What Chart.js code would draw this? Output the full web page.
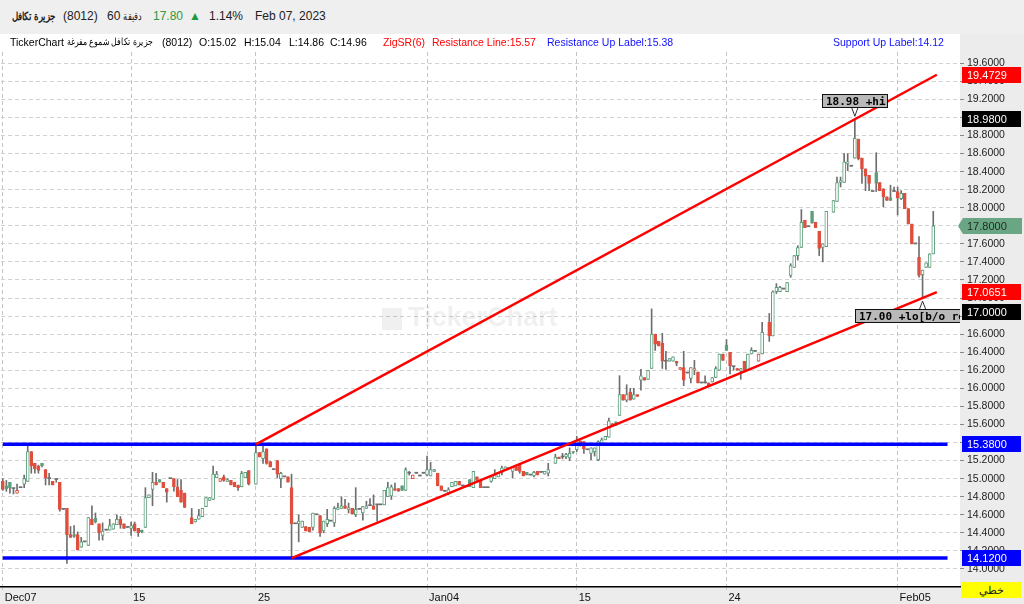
<!DOCTYPE html>
<html>
<head>
<meta charset="utf-8">
<script src="https://cdn.jsdelivr.net/npm/chart.js@4.4.1/dist/chart.umd.min.js"></script>
<style>
    body { margin: 0; width: 1024px; height: 604px; overflow: hidden; background: #ececec; position: relative;
        font-family: "Liberation Sans", Arial, sans-serif; }
    #hdr { position: absolute; left: 0; top: 0; width: 1024px; height: 34px; background: #efefef; }
    #plotBg { position: absolute; left: 0; top: 34px; width: 960px; height: 553px; background: #fff; }
    #chart { position: absolute; left: 0; top: 0; }
    .t { position: absolute; white-space: nowrap; line-height: 14px; }
    .h { top: 9px; font-size: 12px; color: #222; }
    .l { top: 35px; font-size: 10.5px; color: #000; }
    .ar { unicode-bidi: isolate; direction: rtl; transform-origin: left center; }
    .sq { display: inline-block; transform: scaleX(0.8); transform-origin: left center; }
    #mode { position: absolute; left: 961px; top: 582px; width: 60px; height: 16px; background: #ffff00;
        font-size: 11px; text-align: center; line-height: 16px; color: #222; }
</style>
</head>
<body>
<div id="hdr">
    <span class="t h ar" style="left:12px;font-weight:bold;font-size:11px;transform:scaleX(0.78)">جزيرة تكافل</span>
    <span class="t h" style="left:63px">(8012)</span>
    <span class="t h" style="left:107px">60</span>
    <span class="t h ar" style="left:123px;font-size:11px;transform:scaleX(0.75)">دقيقة</span>
    <span class="t h" style="left:153px;color:#2e9a3a">17.80</span>
    <span class="t h" style="left:189px;color:#1a9c44;font-size:12px">▲</span>
    <span class="t h" style="left:209px">1.14%</span>
    <span class="t h" style="left:255px">Feb 07, 2023</span>
</div>
<div id="plotBg"></div>
<canvas id="chart" width="1024" height="604"></canvas>
<span class="t l" style="left:10px">TickerChart</span>
<span class="t l ar" style="left:67px;font-size:10px;transform:scaleX(0.78)">جزيرة تكافل شموع مفرغة</span>
<span class="t l" style="left:162px">(8012)</span>
<span class="t l" style="left:199px">O:15.02</span>
<span class="t l" style="left:244px">H:15.04</span>
<span class="t l" style="left:289px">L:14.86</span>
<span class="t l" style="left:330px">C:14.96</span>
<span class="t l" style="left:383px;color:#ff0000">ZigSR(6)</span>
<span class="t l" style="left:432px;color:#ff0000">Resistance Line:15.57</span>
<span class="t l" style="left:547px;color:#1010ff">Resistance Up Label:15.38</span>
<span class="t l" style="left:833px;color:#1010ff">Support Up Label:14.12</span>
<div id="mode">خطي</div>
<script>
// 60 min candles, Dec 07 2022 .. Feb 07 2023 (null = empty slot)
const open = [
    14.97,14.92,14.96,14.89,14.84,14.90,14.94,14.97,15.30,15.17,
    15.14,15.17,15.10,15.00,14.97,14.99,14.96,14.66,14.67,14.38,
    14.38,14.38,14.24,14.30,14.26,14.55,14.56,14.50,14.37,14.43,
    14.43,14.44,14.49,14.55,14.50,14.46,14.45,14.50,14.45,14.43,
    14.46,14.79,14.88,14.96,14.99,14.96,14.89,15.00,15.00,14.91,
    14.87,14.84,null,14.57,14.52,14.55,14.58,14.69,14.76,14.77,
    15.01,14.97,15.02,14.97,14.98,14.96,14.93,14.91,15.01,15.09,
    null,14.94,15.29,15.22,15.33,15.19,15.10,15.20,15.00,15.02,
    15.02,14.90,14.50,14.50,14.46,14.47,14.46,14.46,14.60,14.59,
    14.42,14.50,14.53,14.51,14.66,14.67,14.70,14.66,14.67,14.60,
    14.66,14.62,14.67,14.70,14.70,14.71,14.71,14.71,14.80,14.81,
    14.89,14.89,14.92,14.87,15.06,15.00,15.06,15.03,15.06,15.04,
    15.03,15.08,15.06,14.92,14.86,14.84,14.91,14.92,14.97,14.92,
    14.91,14.99,14.90,15.02,14.98,14.90,14.90,14.97,15.00,15.02,
    15.07,15.10,15.11,15.08,15.13,15.16,15.08,15.07,15.04,15.03,
    15.08,15.07,15.05,15.06,null,15.17,15.24,15.24,15.24,15.23,
    15.30,15.32,15.42,15.41,15.32,15.28,15.30,15.21,15.39,15.43,
    15.46,15.61,15.63,15.70,15.93,15.87,15.96,15.88,15.93,16.09,
    16.12,16.10,16.22,16.60,16.52,16.50,16.30,16.30,16.30,16.30,
    16.21,16.23,16.17,16.11,16.20,16.18,16.06,16.06,16.06,16.07,
    16.12,16.20,16.38,16.48,16.40,16.24,16.22,16.19,16.30,16.20,
    16.38,16.41,16.30,16.38,null,16.73,16.58,17.07,17.07,17.10,
    17.07,17.25,17.34,17.47,17.56,17.86,17.79,17.96,17.84,17.74,
    17.56,17.57,null,17.95,18.07,18.28,18.28,18.49,18.46,18.55,
    18.76,18.55,18.43,18.36,18.18,18.39,18.28,18.21,18.12,18.11,
    18.18,18.18,18.10,18.16,17.99,17.82,17.60,17.45,17.26,17.34,
    17.34,17.49
];
const high = [
    15.00,14.98,14.96,14.89,14.94,14.90,15.04,15.37,15.30,15.17,
    15.15,15.17,15.10,15.06,14.97,15.00,14.96,14.66,14.67,14.47,
    14.48,14.41,14.35,14.30,14.57,14.70,14.62,14.50,14.51,14.43,
    14.55,14.50,14.60,14.58,14.50,14.46,14.52,14.52,14.45,14.43,
    14.90,14.82,15.07,15.06,14.99,14.96,14.89,15.00,15.00,14.99,
    14.99,14.84,null,14.67,14.55,14.66,14.67,14.79,14.79,15.14,
    15.08,15.00,15.04,15.00,14.98,14.96,14.93,15.08,15.07,15.09,
    null,15.38,15.29,15.36,15.33,15.19,15.10,15.20,15.07,15.02,
    15.02,15.05,14.50,14.60,14.53,14.47,14.46,14.62,14.60,14.59,
    14.53,14.66,14.53,14.69,14.73,14.80,14.77,14.73,14.67,14.90,
    14.66,14.69,14.75,14.78,14.82,14.71,14.71,14.87,14.96,14.93,
    14.95,14.89,14.92,15.12,15.08,15.04,15.06,15.03,15.06,15.25,
    15.18,15.10,15.06,14.92,14.86,14.90,14.96,14.97,14.97,14.92,
    14.91,14.99,15.08,15.02,14.98,14.90,14.90,15.02,15.10,15.07,
    15.14,15.13,15.11,15.13,15.13,15.17,15.08,15.07,15.04,15.08,
    15.08,15.07,15.08,15.17,null,15.27,15.24,15.28,15.28,15.34,
    15.30,15.47,15.42,15.41,15.32,15.34,15.34,15.42,15.45,15.47,
    15.67,15.61,15.63,16.14,15.93,16.04,16.00,16.00,15.93,16.21,
    16.12,16.20,16.88,16.60,16.52,16.61,16.41,16.33,16.35,16.30,
    16.23,16.41,16.17,16.23,16.31,16.18,16.06,16.14,16.06,16.12,
    16.24,16.38,16.38,16.54,16.40,16.24,16.22,16.22,16.30,16.38,
    16.45,16.41,16.38,16.73,null,16.83,17.08,17.16,17.13,17.10,
    17.17,17.38,17.47,17.58,17.98,17.86,17.79,17.96,17.84,17.74,
    17.60,17.96,null,18.08,18.34,18.34,18.60,18.60,18.46,18.98,
    18.76,18.55,18.43,18.36,18.18,18.61,18.28,18.21,18.12,18.25,
    18.23,18.23,18.19,18.16,17.99,17.82,17.60,17.68,17.31,17.39,
    17.49,17.96
];
const low = [
    14.87,14.86,14.84,14.83,14.84,14.90,14.90,14.97,15.06,15.06,
    15.06,15.13,14.93,14.93,14.93,14.96,14.64,14.66,14.06,14.35,
    14.35,14.21,14.24,14.30,14.26,14.49,14.51,14.32,14.32,14.43,
    14.43,14.44,14.49,14.45,14.45,14.46,14.37,14.42,14.36,14.40,
    14.46,14.79,14.70,14.93,14.96,14.90,14.74,15.00,14.86,14.80,
    14.74,14.68,null,14.50,14.52,14.55,14.58,14.69,14.76,14.77,
    15.01,14.97,14.97,14.97,14.93,14.91,14.87,14.91,15.01,14.93,
    null,14.94,15.24,15.17,15.16,15.13,15.10,15.01,14.90,15.02,
    14.96,14.12,14.50,14.30,14.46,14.42,14.41,14.43,14.60,14.36,
    14.40,14.47,14.53,14.47,14.66,14.67,14.67,14.62,14.61,14.58,
    14.66,14.54,14.67,14.70,14.66,14.53,14.71,14.71,14.80,14.77,
    14.87,14.86,14.87,14.87,15.04,15.00,15.06,15.03,15.06,15.03,
    15.03,15.08,14.92,14.87,14.86,14.82,14.91,14.92,14.93,14.92,
    14.91,14.91,14.90,14.98,14.90,14.90,14.90,14.96,15.00,15.02,
    15.04,15.10,15.11,15.01,15.09,15.06,15.03,15.04,15.04,15.02,
    15.04,15.07,15.05,15.03,null,15.17,15.22,15.22,15.22,15.20,
    15.28,15.30,15.36,15.28,15.32,15.21,15.25,15.20,15.37,15.43,
    15.46,15.58,15.59,15.70,15.87,15.85,15.87,15.88,15.91,15.98,
    16.09,16.10,16.22,16.42,16.47,16.22,16.21,16.30,16.30,16.25,
    16.21,16.03,16.17,16.06,16.15,16.06,16.06,16.06,16.03,16.07,
    16.12,16.20,16.31,16.42,16.16,16.20,16.20,16.10,16.20,16.20,
    16.38,16.41,16.30,16.38,null,16.52,16.58,17.05,17.07,17.10,
    17.07,17.23,17.34,17.42,17.56,17.78,17.79,17.83,17.78,17.47,
    17.40,17.57,null,17.95,18.07,18.23,18.28,18.41,18.46,18.55,
    18.53,18.27,18.19,18.19,18.18,18.18,18.19,18.01,18.08,18.08,
    18.18,17.92,18.09,17.99,17.82,17.60,17.60,17.23,17.00,17.34,
    17.34,17.49
];
const close = [
    14.88,14.89,14.90,14.89,14.87,14.90,15.00,15.30,15.14,15.11,
    15.09,15.14,15.01,15.00,14.93,14.99,14.66,14.66,14.38,14.35,
    14.36,14.21,14.30,14.30,14.57,14.49,14.52,14.40,14.42,14.43,
    14.48,14.50,14.55,14.49,14.45,14.46,14.48,14.42,14.40,14.41,
    14.79,14.82,14.96,14.93,14.96,14.90,14.85,15.00,14.91,14.80,
    14.74,14.68,null,14.50,14.55,14.59,14.67,14.79,14.79,15.05,
    15.05,15.00,14.98,14.99,14.93,14.91,14.90,15.06,15.07,14.94,
    null,15.29,15.24,15.30,15.17,15.13,15.10,15.05,15.06,15.02,
    14.96,14.50,14.50,14.53,14.53,14.42,14.41,14.62,14.60,14.40,
    14.53,14.55,14.53,14.67,14.68,14.70,14.67,14.68,14.61,14.66,
    14.66,14.69,14.70,14.70,14.66,14.71,14.71,14.87,14.90,14.91,
    14.87,14.86,14.87,15.10,15.06,15.04,15.06,15.03,15.06,15.10,
    15.10,15.10,14.92,14.87,14.86,14.88,14.96,14.97,14.93,14.92,
    14.91,14.91,15.08,14.98,14.90,14.90,14.90,15.02,15.04,15.07,
    15.12,15.13,15.11,15.13,15.09,15.08,15.03,15.04,15.04,15.07,
    15.04,15.07,15.08,15.10,null,15.24,15.22,15.24,15.27,15.28,
    15.29,15.42,15.39,15.33,15.32,15.34,15.34,15.41,15.43,15.47,
    15.64,15.58,15.59,15.93,15.87,15.93,15.87,15.93,15.91,16.14,
    16.09,16.20,16.60,16.49,16.47,16.30,16.30,16.33,16.35,16.28,
    16.23,16.09,16.17,16.23,16.22,16.06,16.06,16.06,16.03,16.12,
    16.22,16.38,16.31,16.42,16.25,16.24,16.20,16.22,16.20,16.38,
    16.42,16.41,16.38,16.62,null,16.58,17.07,17.12,17.12,17.10,
    17.17,17.36,17.47,17.56,17.84,17.78,17.79,17.83,17.78,17.55,
    17.60,17.96,null,18.08,18.28,18.30,18.51,18.51,18.46,18.77,
    18.54,18.43,18.35,18.27,18.18,18.27,18.19,18.12,18.08,18.08,
    18.18,18.11,18.16,17.99,17.82,17.60,17.60,17.25,17.31,17.39,
    17.49,17.80
];

const slotCount = 269; // candles + empty room on the right
const dateTickIdx = [0, 36, 71, 119, 161, 203, 251];
const dateTickText = ['Dec07', '15', '25', 'Jan04', '15', '24', 'Feb05'];
const priceTicks = [14.0, 14.2, 14.4, 14.6, 14.8, 15.0, 15.2, 15.4, 15.6, 15.8, 16.0, 16.2, 16.4, 16.6,
    16.8, 17.0, 17.2, 17.4, 17.6, 17.8, 18.0, 18.2, 18.4, 18.6, 18.8, 19.0, 19.2, 19.4, 19.6];

// ZigSR(6) lines
const upperIdx = [71, 262];
const upperVal = [15.38, 19.4729];
const lowerIdx = [81, 262];
const lowerVal = [14.12, 17.0651];
const levelIdx = [0, 265];
const resistanceLevel = 15.38;
const supportLevel = 14.12;

// price tags on the right axis
const tagPrices = [19.4729, 18.98, 17.80, 17.0651, 17.00, 15.38, 14.12];
const tagBg = ['#ff0000', '#000000', '#6aa584', '#ff0000', '#000000', '#0000ff', '#0000ff'];
const tagFg = ['#ffffff', '#ffffff', '#1e2a22', '#ffffff', '#ffffff', '#ffffff', '#ffffff'];
const tagShift = [0, 0, 0, 0, 14, 0, 0]; // pushed down so it does not cover the tag above

const hiLabel = {idx: 239, value: 18.98, text: '18.98 +hi'};
const loLabel = {idx: 258, value: 17.00, text: '17.00 +lo[b/o rev]'};

const upColor = '#5e9f7b';
const downColor = '#e04f3e';
const wickColor = '#6e6e6e';

const labels = [];
for (let i = 0; i < slotCount; i++) labels.push(String(i));

// hollow candles: colour from previous close, fill from open/close
const bodyFill = [], bodyLine = [], isDoji = [];
let prevClose = null;
open.forEach((o, i) => {
    const c = close[i];
    if (o == null) { bodyFill.push(null); bodyLine.push(null); isDoji.push(false); return; }
    const ref = prevClose == null ? o : prevClose;
    const col = c >= ref ? upColor : downColor;
    const doji = Math.abs(c - o) < 0.005;
    isDoji.push(doji);
    if (doji) { bodyFill.push(wickColor); bodyLine.push(wickColor); }
    else if (c < o) { bodyFill.push(col); bodyLine.push(col); }
    else { bodyFill.push('#ffffff'); bodyLine.push(col); }
    prevClose = c;
});
const bodies = open.map((o, i) => o == null ? null : [o, close[i]]);
const wicks = low.map((l, i) => l == null ? null : [l, high[i]]);

const linePoints = (idx, vals) => idx.map((k, j) => ({x: labels[k], y: vals[j]}));

const overlays = {
    id: 'overlays',
    beforeDatasetsDraw(chart) {
        const ctx = chart.ctx;
        // watermark
        ctx.save();
        ctx.fillStyle = 'rgba(0,0,0,0.06)';
        ctx.font = 'bold 27px "Liberation Sans", Arial';
        ctx.textBaseline = 'middle';
        ctx.fillText('TickerChart', 408, 319);
        ctx.fillRect(382, 308, 20, 22);
        ctx.restore();
    },
    afterDatasetsDraw(chart) {
        const ctx = chart.ctx, x = chart.scales.x, y = chart.scales.y, area = chart.chartArea;
        ctx.save();
        ctx.beginPath();
        ctx.rect(area.left, area.top, area.right - area.left, area.bottom - area.top);
        ctx.clip();
        ctx.font = 'bold 11px "DejaVu Sans Mono", monospace';
        ctx.textBaseline = 'middle';
        const drawBox = (lbl, above, w) => {
            const cx = x.getPixelForValue(lbl.idx);
            const py = y.getPixelForValue(lbl.value);
            const h = 14;
            const left = Math.round(cx - w / 2);
            const top = above ? Math.round(py - 11 - h) : Math.round(py + 11);
            ctx.fillStyle = '#b9b9b9';
            ctx.fillRect(left, top, w, h);
            ctx.strokeStyle = '#111';
            ctx.lineWidth = 1;
            ctx.strokeRect(left + 0.5, top + 0.5, w - 1, h - 1);
            ctx.fillStyle = '#000';
            ctx.fillText(lbl.text, left + 4, top + h / 2 + 1);
            // little pointer
            const by = above ? top + h : top;
            const ty = above ? py - 3 : py + 3;
            ctx.beginPath();
            ctx.moveTo(cx - 3, by);
            ctx.lineTo(cx, ty);
            ctx.lineTo(cx + 3, by);
            ctx.fillStyle = '#fff';
            ctx.fill();
            ctx.strokeStyle = '#333';
            ctx.stroke();
        };
        drawBox(hiLabel, true, 66);
        drawBox(loLabel, false, 136);
        ctx.restore();
    },
    afterDraw(chart) {
        const ctx = chart.ctx, y = chart.scales.y;
        ctx.save();
        ctx.font = '11px "Liberation Sans", Arial';
        ctx.textBaseline = 'middle';
        tagPrices.forEach((p, i) => {
            const py = Math.round(y.getPixelForValue(p)) + tagShift[i];
            ctx.fillStyle = tagBg[i];
            if (i === 2) {
                ctx.beginPath();
                ctx.moveTo(958, py);
                ctx.lineTo(963, py - 8);
                ctx.lineTo(1022, py - 8);
                ctx.lineTo(1022, py + 8);
                ctx.lineTo(963, py + 8);
                ctx.closePath();
                ctx.fill();
            } else {
                ctx.fillRect(962, py - 8, 59, 16);
            }
            ctx.fillStyle = tagFg[i];
            ctx.fillText(p.toFixed(4), 967, py + 1);
        });
        ctx.restore();
    }
};

new Chart(document.getElementById('chart'), {
    type: 'bar',
    data: {
        labels: labels,
        datasets: [
            {type: 'line', data: linePoints(upperIdx, upperVal), borderColor: '#ff0000', borderWidth: 2.5,
                pointRadius: 0, order: 0},
            {type: 'line', data: linePoints(lowerIdx, lowerVal), borderColor: '#ff0000', borderWidth: 2.5,
                pointRadius: 0, order: 0},
            {type: 'line', data: linePoints(levelIdx, [resistanceLevel, resistanceLevel]), borderColor: '#0000ff',
                borderWidth: 3.5, pointRadius: 0, order: 0},
            {type: 'line', data: linePoints(levelIdx, [supportLevel, supportLevel]), borderColor: '#0000ff',
                borderWidth: 3.5, pointRadius: 0, order: 0},
            {data: bodies, backgroundColor: bodyFill, borderColor: bodyLine,
                borderWidth: (c) => isDoji[c.dataIndex] ? 0 : 1, borderSkipped: false,
                barThickness: 3, minBarLength: 1, grouped: false, order: 2},
            {data: wicks, backgroundColor: wickColor, barThickness: 1, grouped: false, order: 3}
        ]
    },
    options: {
        animation: false,
        responsive: false,
        devicePixelRatio: 1,
        layout: {padding: {top: 52, left: 1, right: 0, bottom: 0}},
        plugins: {legend: {display: false}, tooltip: {enabled: false}},
        scales: {
            x: {
                offset: true,
                afterFit: (s) => { s.height = 17; },
                grid: {
                    offset: false,
                    color: (c) => dateTickIdx.includes(c.index) ? '#c4c4c4' : 'transparent',
                    tickLength: 3
                },
                border: {display: true, color: '#000', width: 1.5, dash: [4, 3]},
                ticks: {
                    autoSkip: false, maxRotation: 0, align: 'start', labelOffset: 2, padding: 1,
                    color: '#111', font: {family: 'Liberation Sans', size: 11},
                    callback: (v, i) => {
                        const k = dateTickIdx.indexOf(i);
                        return k < 0 ? '' : dateTickText[k];
                    }
                }
            },
            y: {
                position: 'right',
                min: 13.8,
                max: 19.725,
                afterFit: (s) => { s.width = 64; },
                afterBuildTicks: (s) => { s.ticks = priceTicks.map(v => ({value: v})); },
                grid: {color: '#d2d2d2', tickColor: '#888', tickLength: 4},
                border: {display: false, dash: [4, 3]},
                ticks: {
                    padding: 3, color: '#222', font: {family: 'Liberation Sans', size: 10.5},
                    callback: (v) => Number(v).toFixed(4)
                }
            }
        }
    },
    plugins: [overlays]
});
</script>
</body>
</html>
